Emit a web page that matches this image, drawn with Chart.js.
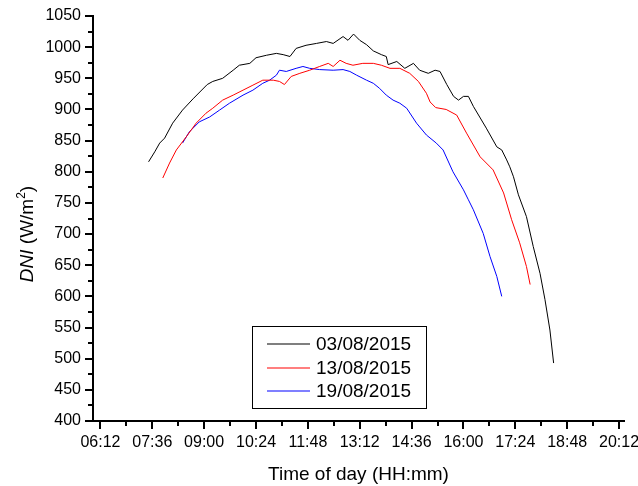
<!DOCTYPE html>
<html><head><meta charset="utf-8">
<script src="https://cdn.jsdelivr.net/npm/chart.js@4/dist/chart.umd.min.js"></script>
<style>html,body{margin:0;padding:0;background:#fff;}canvas{display:block;}</style>
</head><body>
<canvas id="c" width="638" height="486"></canvas>
<script>
// ---- data (time in minutes since midnight, DNI in W/m2) ----
const seriesLabels = ['03/08/2015', '13/08/2015', '19/08/2015'];
const seriesColors = ['#000000', '#ff0000', '#0000ff'];

const t0308 = [450,460,468,476,489,505,522,533,545,554,570,587,597,614,624,641,657,668,679,689,705,722,738,749,765,773,782,792,803,814,827,835,838,852,865,879,889,903,914,922,933,944,952,960,968,976,997,1014,1022,1030,1035,1041,1049,1062,1073,1084,1092,1100,1106];
const v0308 = [816,832,846,854,878,899,917,928,940,945,950,963,971,974,983,987,990,988,985,998,1003,1006,1009,1006,1017,1011,1021,1011,1004,994,988,985,972,977,966,974,963,958,963,961,940,921,915,921,921,905,870,840,835,819,808,792,763,728,680,637,595,546,493];

const t1308 = [473,484,495,511,527,543,554,570,587,603,619,635,652,662,670,681,695,711,727,741,749,760,770,781,797,814,827,841,857,873,887,900,906,915,932,949,965,987,1008,1025,1038,1051,1062,1068];
const v1308 = [790,814,835,856,878,894,902,915,923,931,939,947,947,945,940,953,958,963,969,974,969,979,974,971,974,974,971,966,966,958,945,926,912,903,900,891,862,824,803,766,723,686,648,619];

const t1908 = [505,516,532,549,565,581,603,619,635,646,657,662,673,689,700,711,727,749,765,776,787,803,814,824,835,846,857,868,884,900,916,927,943,960,968,976,992,1003,1014,1022];
const v1908 = [846,864,880,888,899,910,923,931,942,947,955,963,961,966,969,966,964,963,964,961,955,947,942,934,923,915,910,902,878,859,846,835,800,771,755,739,701,664,632,600];

const xTickLabels = ['06:12','07:36','09:00','10:24','11:48','13:12','14:36','16:00','17:24','18:48','20:12'];
const yTickValues = [400,450,500,550,600,650,700,750,800,850,900,950,1000,1050];

// ---- helpers ----
const toMin = s => { const [h, m] = s.split(':').map(Number); return h * 60 + m; };
const fmt = v => { const h = Math.floor(v / 60), m = Math.round(v % 60); return String(h).padStart(2,'0') + ':' + String(m).padStart(2,'0'); };
const xTickValues = xTickLabels.map(toMin);
const pts = (t, v) => t.map((x, i) => ({x, y: v[i]}));
const FONT = "'Liberation Sans', Arial, sans-serif";

const decor = {
  id: 'decor',
  afterDraw(chart) {
    const ctx = chart.ctx, xs = chart.scales.x, ys = chart.scales.y;
    ctx.save();
    ctx.strokeStyle = '#000';
    ctx.lineWidth = 2;
    // minor ticks
    ctx.beginPath();
    for (let i = 0; i < xTickValues.length - 1; i++) {
      const m = (xTickValues[i] + xTickValues[i + 1]) / 2;
      const px = Math.round(xs.getPixelForValue(m));
      ctx.moveTo(px, xs.top); ctx.lineTo(px, xs.top + 5);
    }
    for (let i = 0; i < yTickValues.length - 1; i++) {
      const m = (yTickValues[i] + yTickValues[i + 1]) / 2;
      const py = Math.round(ys.getPixelForValue(m));
      ctx.moveTo(ys.right, py); ctx.lineTo(ys.right - 5, py);
    }
    ctx.stroke();

    // y-axis title: DNI (italic) / (W/m^2)
    ctx.fillStyle = '#000';
    ctx.translate(33, 234);
    ctx.rotate(-Math.PI / 2);
    ctx.textBaseline = 'alphabetic';
    const parts = [
      {t: 'DNI', f: 'italic 19px ' + FONT, dy: 0},
      {t: ' (W/m', f: '19px ' + FONT, dy: 0},
      {t: '2', f: '12px ' + FONT, dy: -8},
      {t: ')', f: '19px ' + FONT, dy: 0}
    ];
    let total = 0;
    parts.forEach(p => { ctx.font = p.f; p.w = ctx.measureText(p.t).width; total += p.w; });
    let x = -total / 2;
    parts.forEach(p => { ctx.font = p.f; ctx.fillText(p.t, x, p.dy); x += p.w; });
    ctx.setTransform(1, 0, 0, 1, 0, 0);

    // legend box
    ctx.lineWidth = 1;
    ctx.strokeStyle = '#000';
    ctx.strokeRect(252.5, 326.5, 174, 82);
    ctx.font = '19px ' + FONT;
    ctx.textBaseline = 'middle';
    const rows = [344, 368, 391];
    seriesLabels.forEach((lab, i) => {
      ctx.strokeStyle = seriesColors[i];
      ctx.lineWidth = 1.2;
      ctx.beginPath();
      ctx.moveTo(267, rows[i]); ctx.lineTo(310, rows[i]);
      ctx.stroke();
      ctx.fillStyle = '#000';
      ctx.fillText(lab, 316, rows[i] + 1);
    });
    ctx.restore();
  }
};

new Chart(document.getElementById('c'), {
  type: 'line',
  data: {
    datasets: seriesLabels.map((lab, i) => ({
      label: lab,
      data: pts([t0308, t1308, t1908][i], [v0308, v1308, v1908][i]),
      borderColor: seriesColors[i],
      backgroundColor: seriesColors[i]
    }))
  },
  options: {
    responsive: false, animation: false, devicePixelRatio: 1,
    layout: {padding: {top: 16, right: 14, left: 0, bottom: 0}},
    plugins: {legend: {display: false}, tooltip: {enabled: false}},
    elements: {line: {borderWidth: 1, tension: 0, fill: false}, point: {radius: 0}},
    scales: {
      x: {
        type: 'linear', min: 360, max: 1220,
        afterBuildTicks: s => { s.ticks = xTickValues.map(v => ({value: v})); },
        afterFit: s => { s.height = 65; s.paddingLeft = 0; s.paddingRight = 0; },
        ticks: {callback: v => fmt(v), font: {family: FONT, size: 16}, color: '#000', padding: 4, maxRotation: 0, autoSkip: false},
        grid: {drawOnChartArea: false, drawTicks: true, tickLength: 8, color: '#000', lineWidth: 2},
        border: {display: true, color: '#000', width: 2},
        title: {display: true, text: 'Time of day (HH:mm)', font: {family: FONT, size: 19}, color: '#000', padding: {top: 0, bottom: 0}}
      },
      y: {
        min: 400, max: 1050,
        afterBuildTicks: s => { s.ticks = yTickValues.map(v => ({value: v})); },
        afterFit: s => { s.width = 93; s.paddingTop = 0; s.paddingBottom = 0; },
        ticks: {callback: v => String(v), font: {family: FONT, size: 16}, color: '#000', padding: 4},
        grid: {drawOnChartArea: false, drawTicks: true, tickLength: 8, color: '#000', lineWidth: 2},
        border: {display: true, color: '#000', width: 2}
      }
    }
  },
  plugins: [decor]
});
</script>
</body></html>
